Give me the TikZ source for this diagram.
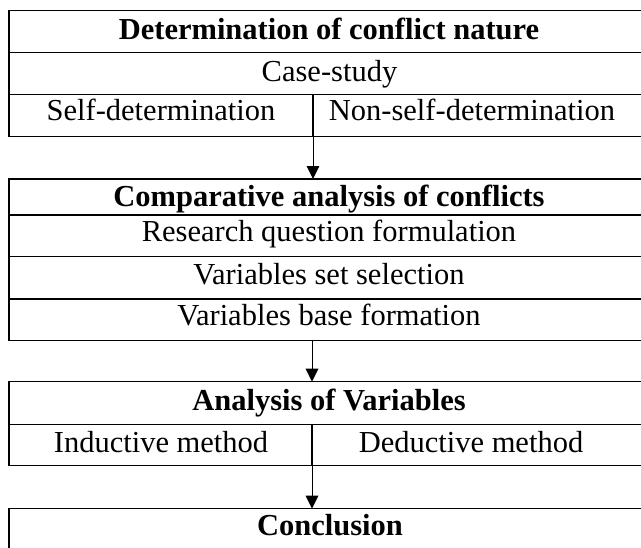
\documentclass[tikz,border=0pt]{standalone}
\usepackage{fontspec}
\setmainfont{Liberation Serif}
\usetikzlibrary{arrows.meta}
\begin{document}
\begin{tikzpicture}[x=0.5pt,y=-0.5pt,
  box/.style={draw, line width=0.75pt, rectangle, inner sep=0pt, outer sep=0pt, anchor=north west, minimum width=320.75pt},
  rule/.style={line width=0.75pt},
  flow/.style={line width=0.5pt, -{Triangle[width=6.3pt,length=6.5pt]}},
  txt/.style={anchor=base, inner sep=0pt, font=\fontsize{15.25}{18}\selectfont},
  head/.style={anchor=base, inner sep=0pt, font=\fontsize{15.25}{18}\selectfont\bfseries}]
\clip (0,0) rectangle (641,547);
% boxes
\node[box, minimum height=62.8pt] (b1) at (9,10.7) {};
\node[box, minimum height=80.85pt] (b2) at (9,179) {};
\node[box, minimum height=42pt] (b3) at (9,381.7) {};
\node[box, minimum height=22pt] (b4) at (9,508.7) {};
% split coordinates
\coordinate (s1) at (313,0);
\coordinate (s2) at (312,0);
% row rules
\draw[rule] (b1.west |- 0,52.3) -- (b1.east |- 0,52.3);
\draw[rule] (b1.west |- 0,94.3) -- (b1.east |- 0,94.3);
\draw[rule] (s1 |- 0,94.3) -- (s1 |- b1.south);
\draw[rule] (b2.west |- 0,215) -- (b2.east |- 0,215);
\draw[rule] (b2.west |- 0,256.7) -- (b2.east |- 0,256.7);
\draw[rule] (b2.west |- 0,299) -- (b2.east |- 0,299);
\draw[rule] (b3.west |- 0,424.5) -- (b3.east |- 0,424.5);
\draw[rule] (s2 |- 0,424.5) -- (s2 |- b3.south);
% connectors
\draw[flow] (s1 |- b1.south) -- (s1 |- b2.north);
\draw[flow] (s2 |- b2.south) -- (s2 |- b3.north);
\draw[flow] (s2 |- b3.south) -- (s2 |- b4.north);
% texts
\node[head] (t1) at (329,39) {Determination of conflict nature};
\node[txt] (t2) at (329.5,81.7) {Case-study};
\node[txt] (t3) at (161,120.7) {Self-determination};
\node[txt] (t4) at (472,120.7) {Non-self-determination};
\node[head] (t5) at (329,206.7) {Comparative analysis of conflicts};
\node[txt] (t6) at (329,241.7) {Research question formulation};
\node[txt] (t7) at (329,284) {Variables set selection};
\node[txt] (t8) at (329,325.7) {Variables base formation};
\node[head] (t9) at (329,410) {Analysis of Variables};
\node[txt] (t10) at (161,452.7) {Inductive method};
\node[txt] (t11) at (471,452.7) {Deductive method};
\node[head] (t12) at (330,535.5) {Conclusion};
\end{tikzpicture}
\end{document}
